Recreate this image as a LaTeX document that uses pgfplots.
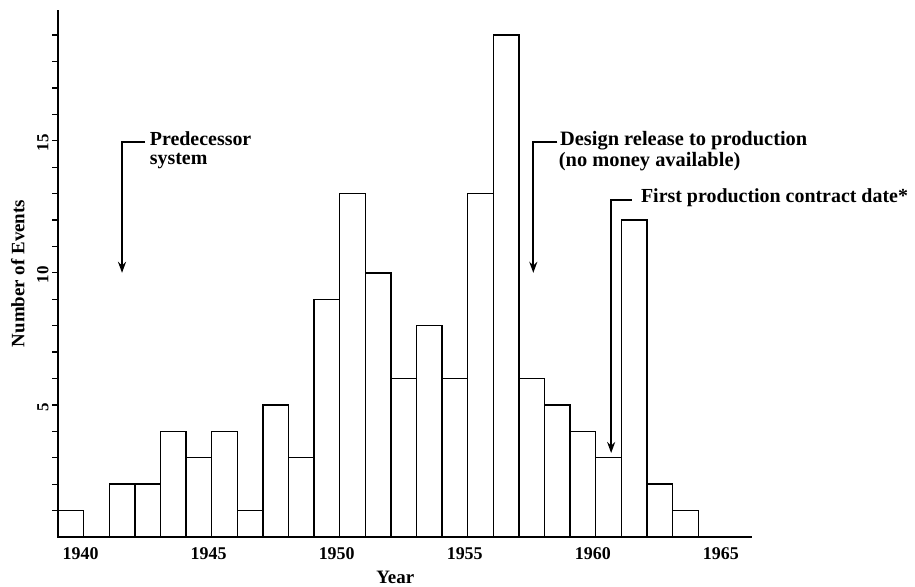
\documentclass[border=0pt]{standalone}
\usepackage{fontspec}
\setmainfont{Liberation Serif}
\usepackage{pgfplots}
\pgfplotsset{compat=1.18}
\usetikzlibrary{arrows.meta,calc}
\begin{document}
\begin{tikzpicture}
\begin{axis}[
  scale only axis, width=694bp, height=527bp,
  xmin=1939, xmax=1966.1, ymin=0, ymax=19.95,
  axis lines=left, axis line style={-, line width=1.8bp},
  ybar, bar width=1,
  xtick={1940,1945,1950,1955,1960,1965},
  major x tick style={draw=none},
  xticklabel style={font=\fontsize{18}{18}\selectfont\bfseries, xshift=-3bp, yshift=-1bp},
  ytick={5,10,15}, minor ytick={1,...,19},
  tick align=outside, major tick length=6bp, minor tick length=6bp,
  every tick/.style={line width=1.2bp, black},
  yticklabel style={rotate=90, anchor=south, font=\fontsize{17}{17}\selectfont\bfseries, xshift=-2bp},
  /pgf/number format/assume math mode=true,
  /pgf/number format/1000 sep={},
  xlabel={Year}, ylabel={Number of Events},
  every axis x label/.style={at={(axis description cs:0.486,-0.076)}, anchor=center, font=\fontsize{19}{19}\selectfont\bfseries},
  every axis y label/.style={at={(axis description cs:-0.058,0.5)}, rotate=90, anchor=center, font=\fontsize{19}{19}\selectfont\bfseries},
  clip=false,
]
\addplot[draw=black, fill=white, line width=1.4bp] coordinates {
(1939.5,1) (1940.5,0) (1941.5,2) (1942.5,2) (1943.5,4) (1944.5,3) (1945.5,4) (1946.5,1)
(1947.5,5) (1948.5,3) (1949.5,9) (1950.5,13) (1951.5,10) (1952.5,6) (1953.5,8) (1954.5,6)
(1955.5,13) (1956.5,19) (1957.5,6) (1958.5,5) (1959.5,4) (1960.5,3) (1961.5,12) (1962.5,2) (1963.5,1)
};
\draw[line width=2.2bp, -{Stealth[length=11bp,width=8bp]}] (axis cs:1942.4,14.96) -- (axis cs:1941.5,14.96) -- (axis cs:1941.5,10.0);
\draw[line width=2.2bp, -{Stealth[length=11bp,width=8bp]}] (axis cs:1958.5,14.96) -- (axis cs:1957.56,14.96) -- (axis cs:1957.56,10.0);
\draw[line width=2.2bp, -{Stealth[length=11bp,width=8bp]}] (axis cs:1961.4,12.77) -- (axis cs:1960.6,12.77) -- (axis cs:1960.6,3.18);
\node[anchor=base west, inner sep=0, font=\fontsize{20}{20}\selectfont\bfseries] at (axis cs:1942.58,14.81) {Predecessor};
\node[anchor=base west, inner sep=0, font=\fontsize{20}{20}\selectfont\bfseries] at (axis cs:1942.58,14.09) {system};
\node[anchor=base west, inner sep=0, font=\fontsize{20.5}{20.5}\selectfont\bfseries] at (axis cs:1958.6,14.81) {Design release to production};
\node[anchor=base west, inner sep=0, font=\fontsize{20.5}{20.5}\selectfont\bfseries] at (axis cs:1958.55,14.02) {(no money available)};
\node[anchor=base west, inner sep=0, font=\fontsize{20}{20}\selectfont\bfseries] at (axis cs:1961.76,12.65) {First production contract date*};
\end{axis}
\path ($(current axis.south west)+(-58bp,-47bp)$) rectangle ($(current axis.north east)+(163bp,10bp)$);
\end{tikzpicture}
\end{document}
